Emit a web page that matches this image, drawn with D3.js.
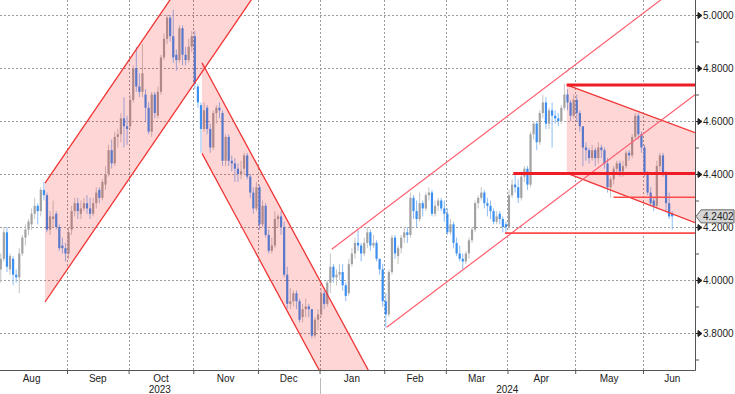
<!DOCTYPE html>
<html>
<head>
<meta charset="utf-8">
<script src="https://cdnjs.cloudflare.com/ajax/libs/d3/7.8.5/d3.min.js"></script>
<style>
  body { margin: 0; background: #fff; }
  svg { display: block; font-family: "Liberation Sans", Arial, sans-serif; }
</style>
</head>
<body>
<script>
// trading days (weekdays minus US bond holidays)
const startDate = "2023-08-01", calEnd = "2024-06-30"
const holidays = ["2023-09-04","2023-10-09","2023-11-23","2023-12-25","2024-01-01",
                  "2024-01-15","2024-02-19","2024-03-29","2024-05-27","2024-06-19"]

const open = [
 3.96,4.04,4.08,4.18,4.04,4.08,4.02,4.01,4.10,4.16,4.19,4.21,4.25,4.28,4.26,4.34,4.32,4.19,4.23,4.25,4.20,4.13,4.12,
 4.10,4.19,4.26,4.29,4.25,4.27,4.29,4.27,4.25,4.29,4.34,4.31,4.36,4.40,4.49,4.44,4.54,4.55,4.61,4.58,
 4.58,4.68,4.80,4.73,4.71,4.70,4.65,4.56,4.70,4.62,4.71,4.84,4.91,4.99,4.92,4.85,4.83,4.95,4.85,4.83,4.88,
 4.92,4.73,4.66,4.57,4.65,4.57,4.50,4.63,4.65,4.63,4.45,4.54,4.45,4.44,4.42,4.40,4.42,4.47,4.39,4.33,4.27,
 4.35,4.21,4.28,4.17,4.11,4.13,4.23,4.24,4.20,4.02,3.91,3.92,3.95,3.92,3.86,3.89,3.90,3.89,3.79,3.85,
 3.87,3.95,3.91,3.99,4.05,4.01,4.02,4.03,3.98,3.95,4.06,4.10,4.14,4.13,4.10,4.14,4.18,4.13,4.14,4.08,4.04,
 3.92,3.87,4.03,4.16,4.09,4.12,4.16,4.18,4.17,4.31,4.26,4.23,4.29,4.27,4.32,4.33,4.25,4.28,4.30,4.27,
 4.25,4.18,4.21,4.14,4.10,4.08,4.07,4.10,4.15,4.19,4.29,4.31,4.33,4.29,4.28,4.26,4.22,4.25,4.23,4.21,
 4.20,4.32,4.36,4.35,4.31,4.39,4.42,4.36,4.55,4.59,4.52,4.63,4.67,4.59,4.64,4.62,4.61,4.60,4.65,4.70,4.67,4.62,
 4.68,4.63,4.58,4.50,4.49,4.46,4.49,4.46,4.50,4.49,4.44,4.35,4.38,4.42,4.44,4.41,4.43,4.48,4.47,4.54,4.62,4.55,
 4.50,4.40,4.33,4.30,4.28,4.43,4.47,4.40,4.29,4.25]
const high = [
 4.06,4.10,4.20,4.20,4.10,4.09,4.04,4.12,4.17,4.21,4.23,4.27,4.31,4.29,4.35,4.37,4.33,4.26,4.30,4.26,4.21,4.16,4.14,
 4.20,4.28,4.31,4.31,4.30,4.31,4.32,4.31,4.31,4.35,4.35,4.38,4.43,4.51,4.53,4.56,4.57,4.63,4.69,4.62,
 4.70,4.81,4.88,4.78,4.89,4.72,4.67,4.71,4.71,4.73,4.85,4.93,5.00,5.00,5.02,4.87,4.96,4.96,4.88,4.91,4.94,
 4.94,4.74,4.67,4.67,4.66,4.59,4.64,4.66,4.67,4.64,4.55,4.55,4.47,4.46,4.44,4.45,4.48,4.48,4.40,4.35,4.37,
 4.36,4.30,4.29,4.19,4.16,4.26,4.25,4.26,4.22,4.05,3.97,3.96,3.96,3.93,3.91,3.93,3.91,3.89,3.86,3.89,
 3.97,3.96,4.00,4.10,4.06,4.04,4.06,4.06,3.99,4.08,4.12,4.16,4.19,4.14,4.16,4.20,4.19,4.17,4.15,4.08,4.06,
 3.95,4.04,4.17,4.17,4.13,4.17,4.20,4.20,4.33,4.32,4.30,4.33,4.30,4.33,4.35,4.34,4.30,4.31,4.31,4.30,
 4.27,4.23,4.22,4.16,4.13,4.10,4.11,4.16,4.20,4.30,4.32,4.35,4.34,4.31,4.30,4.27,4.26,4.26,4.24,4.22,
 4.34,4.38,4.40,4.38,4.41,4.43,4.43,4.56,4.60,4.60,4.64,4.70,4.69,4.65,4.67,4.64,4.63,4.66,4.74,4.72,4.68,4.70,
 4.70,4.64,4.58,4.52,4.50,4.51,4.50,4.52,4.51,4.50,4.46,4.39,4.43,4.45,4.45,4.45,4.49,4.49,4.55,4.63,4.63,4.56,
 4.51,4.41,4.35,4.31,4.45,4.48,4.48,4.41,4.33,4.26]
const low = [
 3.95,3.99,4.07,4.03,4.02,3.98,3.99,3.95,4.09,4.13,4.17,4.19,4.23,4.21,4.24,4.30,4.18,4.17,4.20,4.19,4.11,4.10,4.07,
 4.08,4.17,4.24,4.23,4.23,4.26,4.25,4.23,4.24,4.27,4.29,4.30,4.34,4.39,4.42,4.43,4.50,4.52,4.50,4.51,
 4.57,4.67,4.71,4.69,4.69,4.60,4.55,4.54,4.61,4.61,4.70,4.83,4.89,4.90,4.82,4.79,4.82,4.81,4.81,4.82,4.86,
 4.72,4.65,4.48,4.56,4.55,4.48,4.49,4.59,4.61,4.43,4.43,4.43,4.41,4.37,4.37,4.38,4.40,4.38,4.31,4.25,4.26,
 4.19,4.20,4.16,4.10,4.10,4.12,4.20,4.17,4.01,3.89,3.89,3.90,3.89,3.84,3.84,3.86,3.86,3.78,3.78,3.81,
 3.86,3.89,3.90,3.95,3.99,3.98,4.00,3.96,3.92,3.94,4.05,4.08,4.11,4.07,4.09,4.12,4.11,4.12,4.07,4.02,3.90,
 3.82,3.86,4.02,4.08,4.06,4.10,4.14,4.14,4.16,4.23,4.20,4.22,4.24,4.26,4.30,4.24,4.24,4.26,4.26,4.22,
 4.17,4.17,4.12,4.09,4.07,4.04,4.06,4.08,4.14,4.18,4.27,4.30,4.27,4.24,4.23,4.21,4.21,4.21,4.18,4.175,
 4.19,4.31,4.33,4.29,4.30,4.37,4.34,4.35,4.53,4.49,4.51,4.61,4.57,4.57,4.50,4.59,4.58,4.59,4.64,4.64,4.60,4.61,
 4.60,4.56,4.43,4.45,4.44,4.45,4.43,4.44,4.46,4.42,4.33,4.31,4.36,4.40,4.39,4.39,4.42,4.45,4.46,4.53,4.53,4.48,
 4.39,4.32,4.28,4.26,4.27,4.41,4.39,4.26,4.23,4.19]
const close = [
 4.05,4.08,4.18,4.05,4.09,4.02,4.01,4.10,4.16,4.19,4.22,4.25,4.28,4.26,4.34,4.32,4.19,4.24,4.24,4.20,4.12,4.12,4.10,
 4.18,4.26,4.29,4.26,4.27,4.29,4.27,4.25,4.29,4.33,4.31,4.37,4.40,4.49,4.44,4.54,4.55,4.61,4.58,4.57,
 4.68,4.80,4.73,4.71,4.78,4.65,4.56,4.70,4.63,4.71,4.84,4.91,4.99,4.92,4.84,4.83,4.95,4.85,4.83,4.88,4.92,
 4.74,4.67,4.57,4.64,4.57,4.50,4.63,4.65,4.64,4.45,4.54,4.45,4.44,4.42,4.40,4.41,4.47,4.39,4.33,4.27,4.35,
 4.21,4.28,4.17,4.11,4.13,4.23,4.24,4.20,4.02,3.91,3.92,3.95,3.92,3.85,3.89,3.90,3.89,3.79,3.85,3.87,
 3.95,3.91,3.99,4.05,4.01,4.02,4.03,3.98,3.94,4.06,4.10,4.14,4.13,4.10,4.14,4.18,4.13,4.14,4.08,4.04,3.92,
 3.87,4.03,4.16,4.10,4.12,4.16,4.18,4.17,4.31,4.26,4.23,4.29,4.27,4.32,4.33,4.25,4.28,4.30,4.27,4.25,
 4.18,4.21,4.14,4.10,4.08,4.07,4.10,4.15,4.19,4.29,4.31,4.33,4.29,4.28,4.26,4.22,4.24,4.23,4.20,4.20,
 4.32,4.36,4.35,4.31,4.39,4.42,4.36,4.55,4.59,4.52,4.63,4.67,4.59,4.64,4.62,4.61,4.60,4.65,4.70,4.67,4.62,4.68,
 4.63,4.58,4.50,4.49,4.46,4.49,4.46,4.50,4.49,4.44,4.35,4.38,4.42,4.44,4.41,4.43,4.48,4.47,4.54,4.62,4.55,4.50,
 4.40,4.33,4.29,4.28,4.43,4.47,4.40,4.29,4.24,4.2402]

const yTicks = [3.8, 4.0, 4.2, 4.4, 4.6, 4.8, 5.0]
const yMinor = [3.7, 3.9, 4.1, 4.3, 4.5, 4.7, 4.9]

// drawn studies, in [trading-day index, yield]
const chanAug = { upper: [[15.86, 4.366], [90, 5.628]], lower: [[15.86, 3.917], [90, 5.179]] }
const chanNov = { upper: [[66.83, 4.82], [125, 3.57]], lower: [[66.83, 4.478], [125, 3.227]] }
const chanJan = { upper: [[108.94, 4.116], [226.9, 5.155]], lower: [[126.8, 3.8215], [226.9, 4.699]] }
const wedge   = { upper: [[185.24, 4.736], [226.9, 4.556]], lower: [[185.24, 4.403], [226.9, 4.216]] }
const thickLevels = [[185.24, 4.736], [167.9, 4.402]]
const thinLevels  = [[165.2, 4.177], [200.4, 4.312]]

const width = 735, height = 394
const plotR = 695, plotB = 370

const fmt = d3.timeFormat("%Y-%m-%d")
const parse = d3.timeParse("%Y-%m-%d")
const days = d3.timeDay.range(parse(startDate), d3.timeDay.offset(parse(calEnd), 1))
  .filter(d => d.getDay() % 6 !== 0 && !holidays.includes(fmt(d)))

const x = d3.scaleLinear().domain([0, 227]).range([-3.84, -3.84 + 227 * 3.08])
const y = d3.scaleLinear().domain([3.8, 5.0]).range([333, 15])

const svg = d3.select("body").append("svg")
  .attr("width", width).attr("height", height)

svg.append("defs").append("clipPath").attr("id", "plot")
  .append("rect").attr("x", 0).attr("y", 0).attr("width", plotR).attr("height", plotB)

// month boundaries
let monthStarts = []
days.forEach((d, i) => { if (i === 0 || d.getMonth() !== days[i - 1].getMonth()) monthStarts.push(i) })

const grid = svg.append("g").attr("clip-path", "url(#plot)")
grid.selectAll(".hg").data(yTicks).enter().append("line")
  .attr("x1", 0).attr("x2", plotR)
  .attr("y1", d => Math.round(y(d)) + 0.5).attr("y2", d => Math.round(y(d)) + 0.5)
  .attr("stroke", "#9a9a9a").attr("stroke-dasharray", "2,2")
grid.selectAll(".vg").data(monthStarts.slice(1)).enter().append("line")
  .attr("x1", d => Math.round(x(d)) + 0.5).attr("x2", d => Math.round(x(d)) + 0.5)
  .attr("y1", 0).attr("y2", plotB)
  .attr("stroke", "#9a9a9a").attr("stroke-dasharray", "2,2")

// candles
const plot = svg.append("g").attr("clip-path", "url(#plot)")
const candles = plot.selectAll(".c").data(close).enter().append("g")
candles.append("line")
  .attr("x1", (d, i) => x(i + 0.5)).attr("x2", (d, i) => x(i + 0.5))
  .attr("y1", (d, i) => y(high[i])).attr("y2", (d, i) => y(low[i]))
  .attr("stroke", (d, i) => close[i] >= open[i] ? "#c4c4c4" : "#8dbdf5")
  .attr("stroke-width", 1)
candles.append("rect")
  .attr("x", (d, i) => x(i + 0.5) - 1.1).attr("width", 2.2)
  .attr("y", (d, i) => y(Math.max(open[i], close[i])))
  .attr("height", (d, i) => Math.max(1, Math.abs(y(open[i]) - y(close[i]))))
  .attr("fill", (d, i) => close[i] >= open[i] ? "#a2a2a2" : "#3a8ff0")

// studies
const line = d3.line().x(d => x(d[0])).y(d => y(d[1]))
const band = c => line([c.upper[0], c.upper[1], c.lower[1], c.lower[0]]) + "Z"
const pink = "rgba(255,0,0,0.16)"
;[chanAug, chanNov, wedge].forEach(c => {
  plot.append("path").attr("d", band(c)).attr("fill", pink)
})
;[chanAug, chanNov, wedge].forEach(c => {
  plot.append("path").attr("d", line(c.upper)).attr("fill", "none").attr("stroke", "#f03434").attr("stroke-width", 1.3)
  plot.append("path").attr("d", line(c.lower)).attr("fill", "none").attr("stroke", "#f03434").attr("stroke-width", 1.3)
})
plot.append("path").attr("d", line(chanJan.upper)).attr("fill", "none").attr("stroke", "#ff5f70").attr("stroke-width", 1.2)
plot.append("path").attr("d", line(chanJan.lower)).attr("fill", "none").attr("stroke", "#ff5f70").attr("stroke-width", 1.2)

thinLevels.forEach(l => {
  plot.append("line").attr("x1", x(l[0])).attr("x2", plotR)
    .attr("y1", y(l[1])).attr("y2", y(l[1]))
    .attr("stroke", "#ff4a4a").attr("stroke-width", 1.6)
})
thickLevels.forEach(l => {
  plot.append("line").attr("x1", x(l[0])).attr("x2", plotR)
    .attr("y1", y(l[1])).attr("y2", y(l[1]))
    .attr("stroke", "#ee1c24").attr("stroke-width", 3)
})

// bottom axis
const xAxis = d3.axisBottom(x).tickValues(monthStarts.slice(1)).tickFormat("").tickSize(4).tickSizeOuter(0)
const gx = svg.append("g").attr("transform", "translate(0," + plotB + ")").call(xAxis)
gx.select(".domain").attr("stroke", "#555")
gx.selectAll(".tick line").attr("stroke", "#555")

const monthName = d3.timeFormat("%b")
monthStarts.forEach((s, k) => {
  const e = k + 1 < monthStarts.length ? monthStarts[k + 1] : days.length
  svg.append("text").attr("x", x((s + e) / 2)).attr("y", 382)
    .attr("text-anchor", "middle").attr("font-size", 10).attr("fill", "#222")
    .text(monthName(days[s]))
})
const yearStart = days.findIndex(d => d.getFullYear() === 2024)
svg.append("text").attr("x", x(yearStart) / 2).attr("y", 393)
  .attr("text-anchor", "middle").attr("font-size", 10).attr("fill", "#222").text("2023")
svg.append("text").attr("x", (x(yearStart) + plotR) / 2).attr("y", 393)
  .attr("text-anchor", "middle").attr("font-size", 10).attr("fill", "#222").text("2024")
svg.append("line").attr("x1", Math.round(x(yearStart)) + 0.5).attr("x2", Math.round(x(yearStart)) + 0.5)
  .attr("y1", 378).attr("y2", 394).attr("stroke", "#bbb")

// right axis
const yAxis = d3.axisRight(y).tickValues(yTicks).tickFormat(d3.format(".4f")).tickSize(0).tickPadding(8)
const gy = svg.append("g").attr("transform", "translate(" + plotR + ",0)").call(yAxis)
gy.select(".domain").remove()
gy.selectAll("text").attr("font-size", 10).attr("fill", "#222").attr("font-family", "Liberation Sans, Arial, sans-serif")
gy.selectAll(".tick").append("path").attr("d", "M0,0H3M3,-3L7,0L3,3Z").attr("fill", "#222").attr("stroke", "#222").attr("stroke-width", 1)
const gm = svg.append("g").attr("transform", "translate(" + plotR + ",0)")
  .call(d3.axisRight(y).tickValues(yMinor).tickFormat("").tickSize(4))
gm.select(".domain").remove()
gm.selectAll("line").attr("stroke", "#555")
svg.append("line").attr("x1", plotR + 0.5).attr("x2", plotR + 0.5).attr("y1", 0).attr("y2", plotB)
  .attr("stroke", "#555")

// last value tag
const last = close[close.length - 1]
const ly = y(last)
svg.append("path")
  .attr("d", `M${plotR + 1},${ly} L${plotR + 6},${ly - 6.5} H${width - 1} V${ly + 6.5} H${plotR + 6} Z`)
  .attr("fill", "#d6d6d6").attr("stroke", "#666")
svg.append("text").attr("x", plotR + 8).attr("y", ly + 3.5)
  .attr("font-size", 10).attr("fill", "#222").text(d3.format(".4f")(last))
</script>
</body>
</html>
